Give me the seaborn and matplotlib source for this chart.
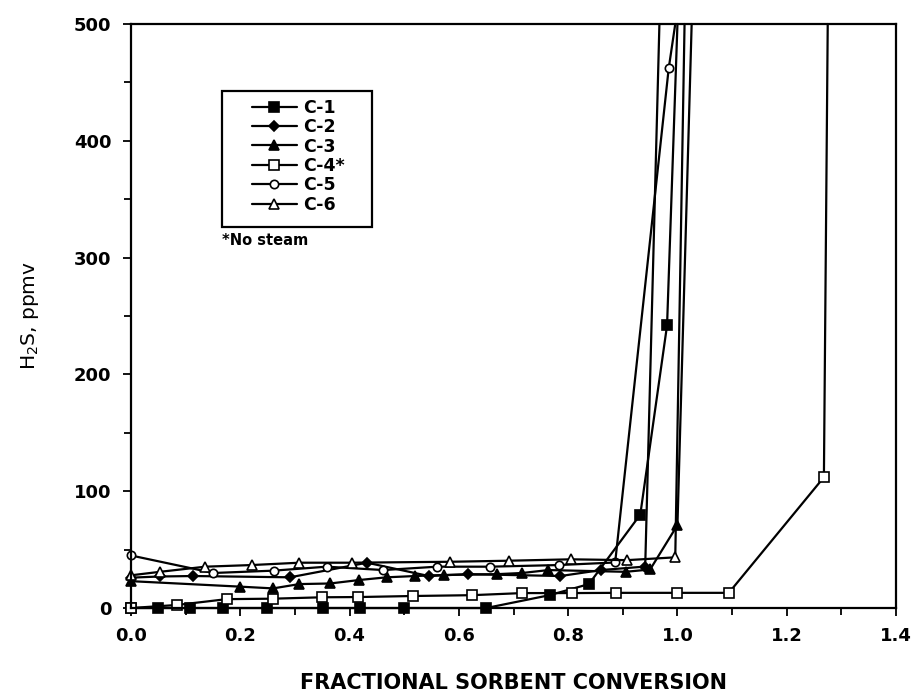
import matplotlib
matplotlib.use("Agg")
import matplotlib.pyplot as plt
import seaborn as sns
import pandas as pd
from matplotlib.ticker import MultipleLocator
from matplotlib.patches import Rectangle

# ---- data ----
c1_x = [0.0, 0.05, 0.108, 0.169, 0.249, 0.352, 0.42, 0.499, 0.65, 0.766, 0.838, 0.932, 0.981, 1.0]
c1_y = [0, 0, 0, 0, 0, 0, 0, 0, 0, 11, 20.5, 80, 242, 500]

c2_x = [0.0, 0.053, 0.114, 0.291, 0.432, 0.545, 0.616, 0.786, 0.86, 0.941, 0.967]
c2_y = [26, 27, 27.4, 26.3, 38.8, 27.4, 29, 27.4, 32.5, 35.5, 500]

c3_x = [0.0, 0.2, 0.26, 0.308, 0.364, 0.418, 0.468, 0.52, 0.572, 0.67, 0.716, 0.764, 0.905, 0.95, 1.0, 1.026]
c3_y = [23, 18.3, 16.8, 20.5, 21, 24, 26.3, 27.4, 28.3, 29, 30, 32.5, 31, 33, 71, 500]

c4_x = [0.0, 0.084, 0.175, 0.26, 0.35, 0.416, 0.517, 0.624, 0.716, 0.807, 0.888, 1.0, 1.094, 1.268, 1.275]
c4_y = [0, 2.6, 7.6, 8, 9.2, 9.4, 10.3, 11, 12.8, 12.8, 13, 13, 13, 112, 500]

c5_x = [0.0, 0.151, 0.261, 0.358, 0.462, 0.56, 0.657, 0.783, 0.886, 0.984, 0.996]
c5_y = [45, 30, 32, 35.4, 32.5, 35.4, 35.4, 36.8, 39, 462, 500]

c6_x = [0.0, 0.053, 0.136, 0.221, 0.308, 0.404, 0.584, 0.691, 0.805, 0.908, 0.996, 1.013]
c6_y = [28, 31, 35.4, 36.8, 38.8, 38.8, 39.6, 40.5, 41.7, 41, 43.4, 500]

series_names = ["C-1", "C-2", "C-3", "C-4*", "C-5", "C-6"]
series_x = [c1_x, c2_x, c3_x, c4_x, c5_x, c6_x]
series_y = [c1_y, c2_y, c3_y, c4_y, c5_y, c6_y]

x_ticks = [0.0, 0.2, 0.4, 0.6, 0.8, 1.0, 1.2, 1.4]
x_tick_labels = ["0.0", "0.2", "0.4", "0.6", "0.8", "1.0", "1.2", "1.4"]
y_ticks = [0, 100, 200, 300, 400, 500]
y_tick_labels = ["0", "100", "200", "300", "400", "500"]

# ---- styles ----
styles = {
    "C-1": dict(marker="s", markersize=7, markerfacecolor="black"),
    "C-2": dict(marker="D", markersize=5, markerfacecolor="black"),
    "C-3": dict(marker="^", markersize=7.5, markerfacecolor="black"),
    "C-4*": dict(marker="s", markersize=7, markerfacecolor="white"),
    "C-5": dict(marker="o", markersize=6, markerfacecolor="white"),
    "C-6": dict(marker="^", markersize=7.5, markerfacecolor="white"),
}

sns.set_theme(style="white")
plt.rcParams["font.family"] = ["DejaVu Sans"]
for k in ["text.color", "axes.labelcolor", "xtick.color", "ytick.color"]:
    plt.rcParams[k] = "black"

fig = plt.figure(figsize=(9.12, 6.96), dpi=100)
ax = fig.add_axes([0.1436, 0.1264, 0.9825 - 0.1436, 0.9655 - 0.1264])

for name, xs, ys in zip(series_names, series_x, series_y):
    df = pd.DataFrame({"x": xs, "y": ys})
    n = len(xs)
    sns.lineplot(data=df, x="x", y="y", ax=ax, color="black", linewidth=1.6,
                 markeredgecolor="black", markeredgewidth=1.2,
                 estimator=None, sort=False, label=name,
                 markevery=list(range(n - 1)), clip_on=False,
                 **styles[name])

ax.set_xlim(0, 1.4)
ax.set_ylim(0, 500)
ax.set_xticks(x_ticks)
ax.set_xticklabels(x_tick_labels)
ax.set_yticks(y_ticks)
ax.set_yticklabels(y_tick_labels)
ax.xaxis.set_minor_locator(MultipleLocator(0.1))
ax.yaxis.set_minor_locator(MultipleLocator(50))
ax.tick_params(axis="both", which="both", direction="out", color="black",
               width=1.3, bottom=True, left=True)
ax.tick_params(axis="both", which="major", length=6, labelsize=13, pad=8,
               labelcolor="black")
ax.tick_params(axis="both", which="minor", length=5)
for lab in ax.get_xticklabels() + ax.get_yticklabels():
    lab.set_fontweight("bold")

for sp in ax.spines.values():
    sp.set_visible(True)
    sp.set_color("black")
    sp.set_linewidth(1.6)

ax.set_xlabel("FRACTIONAL SORBENT CONVERSION", fontsize=15, fontweight="bold",
              labelpad=20, color="black")
ax.set_ylabel("H$_2$S, ppmv", fontsize=14.5, labelpad=24, color="black",
              family=["Liberation Sans Narrow", "DejaVu Sans"])
ax.grid(False)

# legend frame drawn separately (wide left padding as in the reference)
ax.add_patch(Rectangle((0.119, 0.652), 0.196, 0.233, transform=ax.transAxes,
                       fill=False, edgecolor="black", linewidth=1.6,
                       zorder=5))
leg = ax.legend(loc="upper left", bbox_to_anchor=(0.158, 0.872), fontsize=12.5,
                frameon=False, handlelength=2.6, handletextpad=0.35,
                labelspacing=0.08, borderpad=0, borderaxespad=0)
for t in leg.get_texts():
    t.set_fontweight("bold")
    t.set_color("black")

ax.text(0.119, 0.63, "*No steam", transform=ax.transAxes, fontsize=10.5,
        fontweight="bold", ha="left", va="center", color="black")

fig.savefig("out.png", dpi=100, facecolor="white")
